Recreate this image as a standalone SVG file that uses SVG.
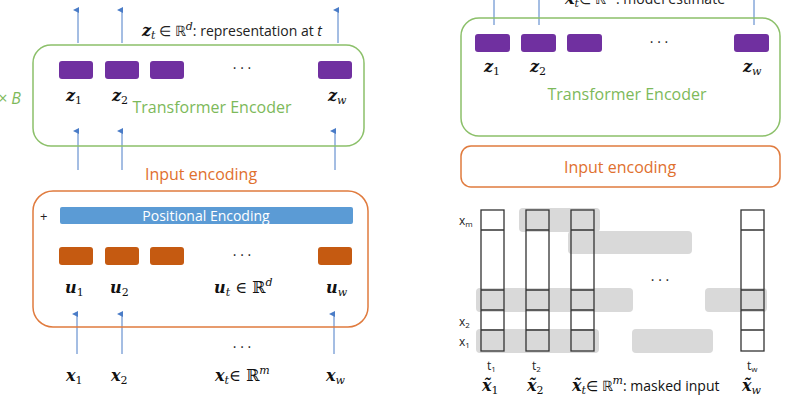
<svg xmlns="http://www.w3.org/2000/svg" width="810" height="400" viewBox="0 0 810 400">
<style>
.g{fill:none;stroke:#8CC06A;stroke-width:1.5}
.o{fill:none;stroke:#E07B3E;stroke-width:1.5}
.p{fill:#7030A0}
.r{fill:#C55A11}
.m{font-family:"DejaVu Serif",serif;font-weight:bold;font-style:italic;font-size:16px;fill:#111}
.s{font-family:"DejaVu Serif",serif;font-size:11px;font-style:italic;font-weight:normal}
.n{font-family:"DejaVu Serif",serif;font-size:11px;font-style:normal;font-weight:normal}
.t{font-family:"Open Sans","Liberation Sans",sans-serif;fill:#222}
.gt{font-family:"Open Sans","Liberation Sans",sans-serif;font-size:16px;fill:#7DB95A}
.ot{font-family:"Open Sans","Liberation Sans",sans-serif;font-size:16px;fill:#E0702E}
.a{stroke:#4A7CC7;stroke-width:1;fill:none}
.gr{fill:#D9D9D9}
.col{fill:none;stroke:#333;stroke-width:1.3}
</style>
<defs><marker id="ah" markerWidth="6" markerHeight="6" refX="3" refY="5" orient="auto-start-reverse" viewBox="0 0 6 6"><path d="M0,6 L3,0 L6,6 Z" fill="#4A7CC7"/></marker></defs>

<g id="connectors">
<path class="a" d="M78,43 V10" marker-end="url(#ah)"/>
<path class="a" d="M122,43 V10" marker-end="url(#ah)"/>
<path class="a" d="M338,43 V10" marker-end="url(#ah)"/>
<path class="a" d="M78,170 V131" marker-end="url(#ah)"/>
<path class="a" d="M122,170 V131" marker-end="url(#ah)"/>
<path class="a" d="M335,170 V131" marker-end="url(#ah)"/>
<path class="a" d="M77,354 V314" marker-end="url(#ah)"/>
<path class="a" d="M122,354 V314" marker-end="url(#ah)"/>
<path class="a" d="M334,354 V314" marker-end="url(#ah)"/>
<path class="a" d="M494,0 V25"/>
<path class="a" d="M539,0 V25"/>
<path class="a" d="M754,0 V25"/>
</g>

<g id="transformer-left">
<rect class="g" x="33" y="45" width="331" height="101" rx="18"/>
<rect class="p" x="59" y="61" width="34" height="18" rx="3"/>
<rect class="p" x="105" y="61" width="34" height="18" rx="3"/>
<rect class="p" x="150" y="61" width="34" height="18" rx="3"/>
<rect class="p" x="318" y="61" width="34" height="18" rx="3"/>
<text class="t" x="242" y="73" font-size="14" text-anchor="middle">· · ·</text>
<text class="m" x="66" y="101">z<tspan class="n" dy="3">1</tspan></text>
<text class="m" x="112" y="101">z<tspan class="n" dy="3">2</tspan></text>
<text class="m" x="328" y="101">z<tspan class="s" dy="3">w</tspan></text>
<text class="gt" x="212" y="113" text-anchor="middle">Transformer Encoder</text>
<text class="gt" x="-2" y="104" font-style="italic" font-family="DejaVu Serif,serif">× B</text>
<text x="142" y="36" class="t" font-size="14"><tspan class="m" font-size="14">z</tspan><tspan class="s" dy="3">t</tspan><tspan dy="-3"> ∈ ℝ</tspan><tspan class="s" dy="-6">d</tspan><tspan dy="6">: representation at </tspan><tspan font-style="italic">t</tspan></text>
</g>

<text id="input-enc-left" class="ot" x="201" y="180" text-anchor="middle">Input encoding</text>

<g id="input-box-left">
<rect class="o" x="33" y="191" width="335" height="136" rx="20"/>
<text class="t" x="40" y="221" font-size="13">+</text>
<rect x="60" y="207" width="293" height="17" rx="2" fill="#5B9BD5"/>
<text x="206" y="221" text-anchor="middle" font-family="Open Sans,Liberation Sans,sans-serif" font-size="14" fill="#fff">Positional Encoding</text>
<rect class="r" x="59" y="247" width="34" height="18" rx="3"/>
<rect class="r" x="105" y="247" width="34" height="18" rx="3"/>
<rect class="r" x="150" y="247" width="34" height="18" rx="3"/>
<rect class="r" x="318" y="247" width="34" height="18" rx="3"/>
<text class="t" x="242" y="260" font-size="14" text-anchor="middle">· · ·</text>
<text class="m" x="65" y="293">u<tspan class="n" dy="3">1</tspan></text>
<text class="m" x="110" y="293">u<tspan class="n" dy="3">2</tspan></text>
<text class="m" x="214" y="293">u<tspan class="s" dy="3">t</tspan><tspan font-style="normal" font-weight="normal" dy="-3"> ∈ ℝ</tspan><tspan class="s" dy="-7">d</tspan></text>
<text class="m" x="326" y="293">u<tspan class="s" dy="3">w</tspan></text>
</g>

<g id="inputs-left">
<text class="t" x="242" y="352" font-size="14" text-anchor="middle">· · ·</text>
<text class="m" x="66" y="381">x<tspan class="n" dy="3">1</tspan></text>
<text class="m" x="111" y="381">x<tspan class="n" dy="3">2</tspan></text>
<text class="m" x="215" y="381">x<tspan class="s" dy="3">t</tspan><tspan font-style="normal" font-weight="normal" dy="-3">∈ ℝ</tspan><tspan class="s" dy="-7">m</tspan></text>
<text class="m" x="326" y="381">x<tspan class="s" dy="3">w</tspan></text>
</g>

<text id="model-estimate" class="t" x="565" y="4" font-size="14"><tspan class="m" font-size="14">x̂</tspan><tspan class="s" dy="3">t</tspan><tspan dy="-3">∈ ℝ</tspan><tspan class="s" dy="-6">m</tspan><tspan dy="6">: model estimate</tspan></text>

<g id="transformer-right">
<rect class="g" x="461" y="18" width="319" height="118" rx="18"/>
<rect class="p" x="475" y="34" width="35" height="18" rx="3"/>
<rect class="p" x="521" y="34" width="35" height="18" rx="3"/>
<rect class="p" x="567" y="34" width="35" height="18" rx="3"/>
<rect class="p" x="734" y="34" width="35" height="18" rx="3"/>
<text class="t" x="659" y="47" font-size="14" text-anchor="middle">· · ·</text>
<text class="m" x="484" y="72">z<tspan class="n" dy="3">1</tspan></text>
<text class="m" x="530" y="72">z<tspan class="n" dy="3">2</tspan></text>
<text class="m" x="743" y="72">z<tspan class="s" dy="3">w</tspan></text>
<text class="gt" x="627" y="100" text-anchor="middle">Transformer Encoder</text>
</g>

<g id="input-enc-right">
<rect class="o" x="461" y="146" width="319" height="41" rx="10"/>
<text class="ot" x="620" y="173" text-anchor="middle">Input encoding</text>
</g>

<g id="masked-grid">
<rect x="481" y="210" width="23" height="141" fill="#fff"/>
<rect x="526" y="210" width="23" height="141" fill="#fff"/>
<rect x="571" y="210" width="23" height="141" fill="#fff"/>
<rect x="741" y="210" width="23" height="141" fill="#fff"/>
<rect class="gr" x="519" y="208" width="81" height="24" rx="4"/>
<rect class="gr" x="568" y="231" width="124" height="23" rx="4"/>
<rect class="gr" x="476" y="288" width="157" height="24" rx="4"/>
<rect class="gr" x="705" y="288" width="62" height="24" rx="4"/>
<rect class="gr" x="476" y="329" width="123" height="24" rx="4"/>
<rect class="gr" x="632" y="329" width="81" height="24" rx="4"/>
<g class="col">
<rect x="481" y="210" width="23" height="141"/><path d="M481,230H504M481,290H504M481,310H504M481,330H504"/>
<rect x="526" y="210" width="23" height="141"/><path d="M526,230H549M526,290H549M526,310H549M526,330H549"/>
<rect x="571" y="210" width="23" height="141"/><path d="M571,230H594M571,290H594M571,310H594M571,330H594"/>
<rect x="741" y="210" width="23" height="141"/><path d="M741,230H764M741,290H764M741,310H764M741,330H764"/>
</g>
<text class="t" x="660" y="285" font-size="14" text-anchor="middle">· · ·</text>
<g class="t" font-size="12">
<text x="459" y="225">x<tspan font-size="8" dy="2">m</tspan></text>
<text x="459" y="326">x<tspan font-size="8" dy="2">2</tspan></text>
<text x="459" y="346">x<tspan font-size="8" dy="2">1</tspan></text>
<text x="487" y="370">t<tspan font-size="8" dy="2">1</tspan></text>
<text x="532" y="370">t<tspan font-size="8" dy="2">2</tspan></text>
<text x="747" y="370">t<tspan font-size="8" dy="2">w</tspan></text>
</g>
<text class="m" x="482" y="391">x̃<tspan class="n" dy="3">1</tspan></text>
<text class="m" x="527" y="391">x̃<tspan class="n" dy="3">2</tspan></text>
<text class="m" x="572" y="391">x̃<tspan class="s" dy="3">t</tspan><tspan font-style="normal" font-weight="normal" font-family="Open Sans,Liberation Sans,sans-serif" font-size="14" dy="-3">∈ ℝ</tspan><tspan class="s" dy="-7">m</tspan><tspan font-style="normal" font-weight="normal" font-family="Open Sans,Liberation Sans,sans-serif" font-size="14" dy="7">: masked input</tspan></text>
<text class="m" x="742" y="391">x̃<tspan class="s" dy="3">w</tspan></text>
</g>
</svg>
